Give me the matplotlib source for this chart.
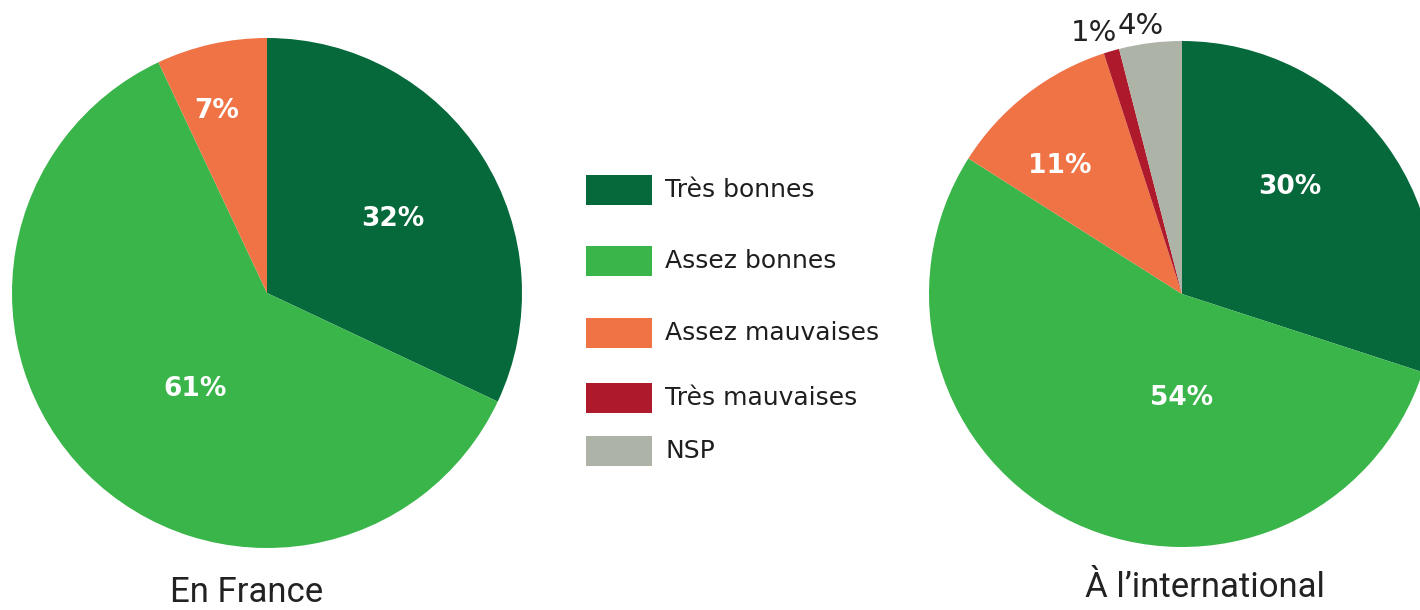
import numpy as np
import matplotlib.pyplot as plt
from matplotlib.patches import Rectangle

# Données
categories = ['Très bonnes', 'Assez bonnes', 'Assez mauvaises', 'Très mauvaises', 'NSP']
france = [32, 61, 7, 0, 0]
international = [30, 54, 11, 1, 4]
titres = ['En France', 'À l\u2019international']

couleurs = ['#06693b', '#3ab54a', '#f07345', '#ae1a2c', '#adb4a7']

# Placement des étiquettes : (fraction du rayon, décalage d'angle en degrés, couleur)
lab_fr = [(0.57, -2, 'white'), (0.47, 8, 'white'), (0.74, 3, 'white')]
lab_int = [(0.60, 9, 'white'), (0.41, 25, 'white'), (0.70, 6, 'white'),
           (1.09, 2.5, '#222222'), (1.07, 1.5, '#222222')]

W, H = 1420, 610
fig = plt.figure(figsize=(W / 100, H / 100), dpi=100)
ax = fig.add_axes([0, 0, 1, 1])


def camembert(vals, centre, r, labs):
    vals = [v for v in vals if v > 0]
    wedges, _ = ax.pie(vals, colors=couleurs[:len(vals)], startangle=90,
                       counterclock=False, center=centre, radius=r,
                       wedgeprops=dict(linewidth=0), frame=True)
    for w, v, (f, da, c) in zip(wedges, vals, labs):
        ang = np.deg2rad((w.theta1 + w.theta2) / 2 + da)
        inside = c == 'white'
        ax.text(centre[0] + f * r * np.cos(ang), centre[1] + f * r * np.sin(ang),
                f'{v}%', color=c, family='DejaVu Sans',
                fontweight='semibold' if inside else 'normal',
                fontsize=19 if inside else 21, ha='center', va='center')


camembert(france, (267, 317), 255, lab_fr)
camembert(international, (1182, 316), 253, lab_int)
ax.set_xlim(0, W)
ax.set_ylim(0, H)
ax.set_aspect('equal')
ax.axis('off')

# Légende
ys = [420, 349, 277, 212, 159]
for cat, col, y in zip(categories, couleurs, ys):
    ax.add_patch(Rectangle((586, y - 15), 66, 30, color=col, lw=0))
    ax.text(665, y, cat, fontsize=18, color='#1e1e1e', va='center', ha='left',
            family='DejaVu Sans')

# Titres
TIT = dict(family=['Roboto', 'DejaVu Sans'], fontsize=25,
           color='#222222', ha='center', va='baseline')
ax.text(247, 8, titres[0], **TIT)
ax.text(1205, 13, titres[1], **TIT)

fig.savefig('out.png', dpi=100)
